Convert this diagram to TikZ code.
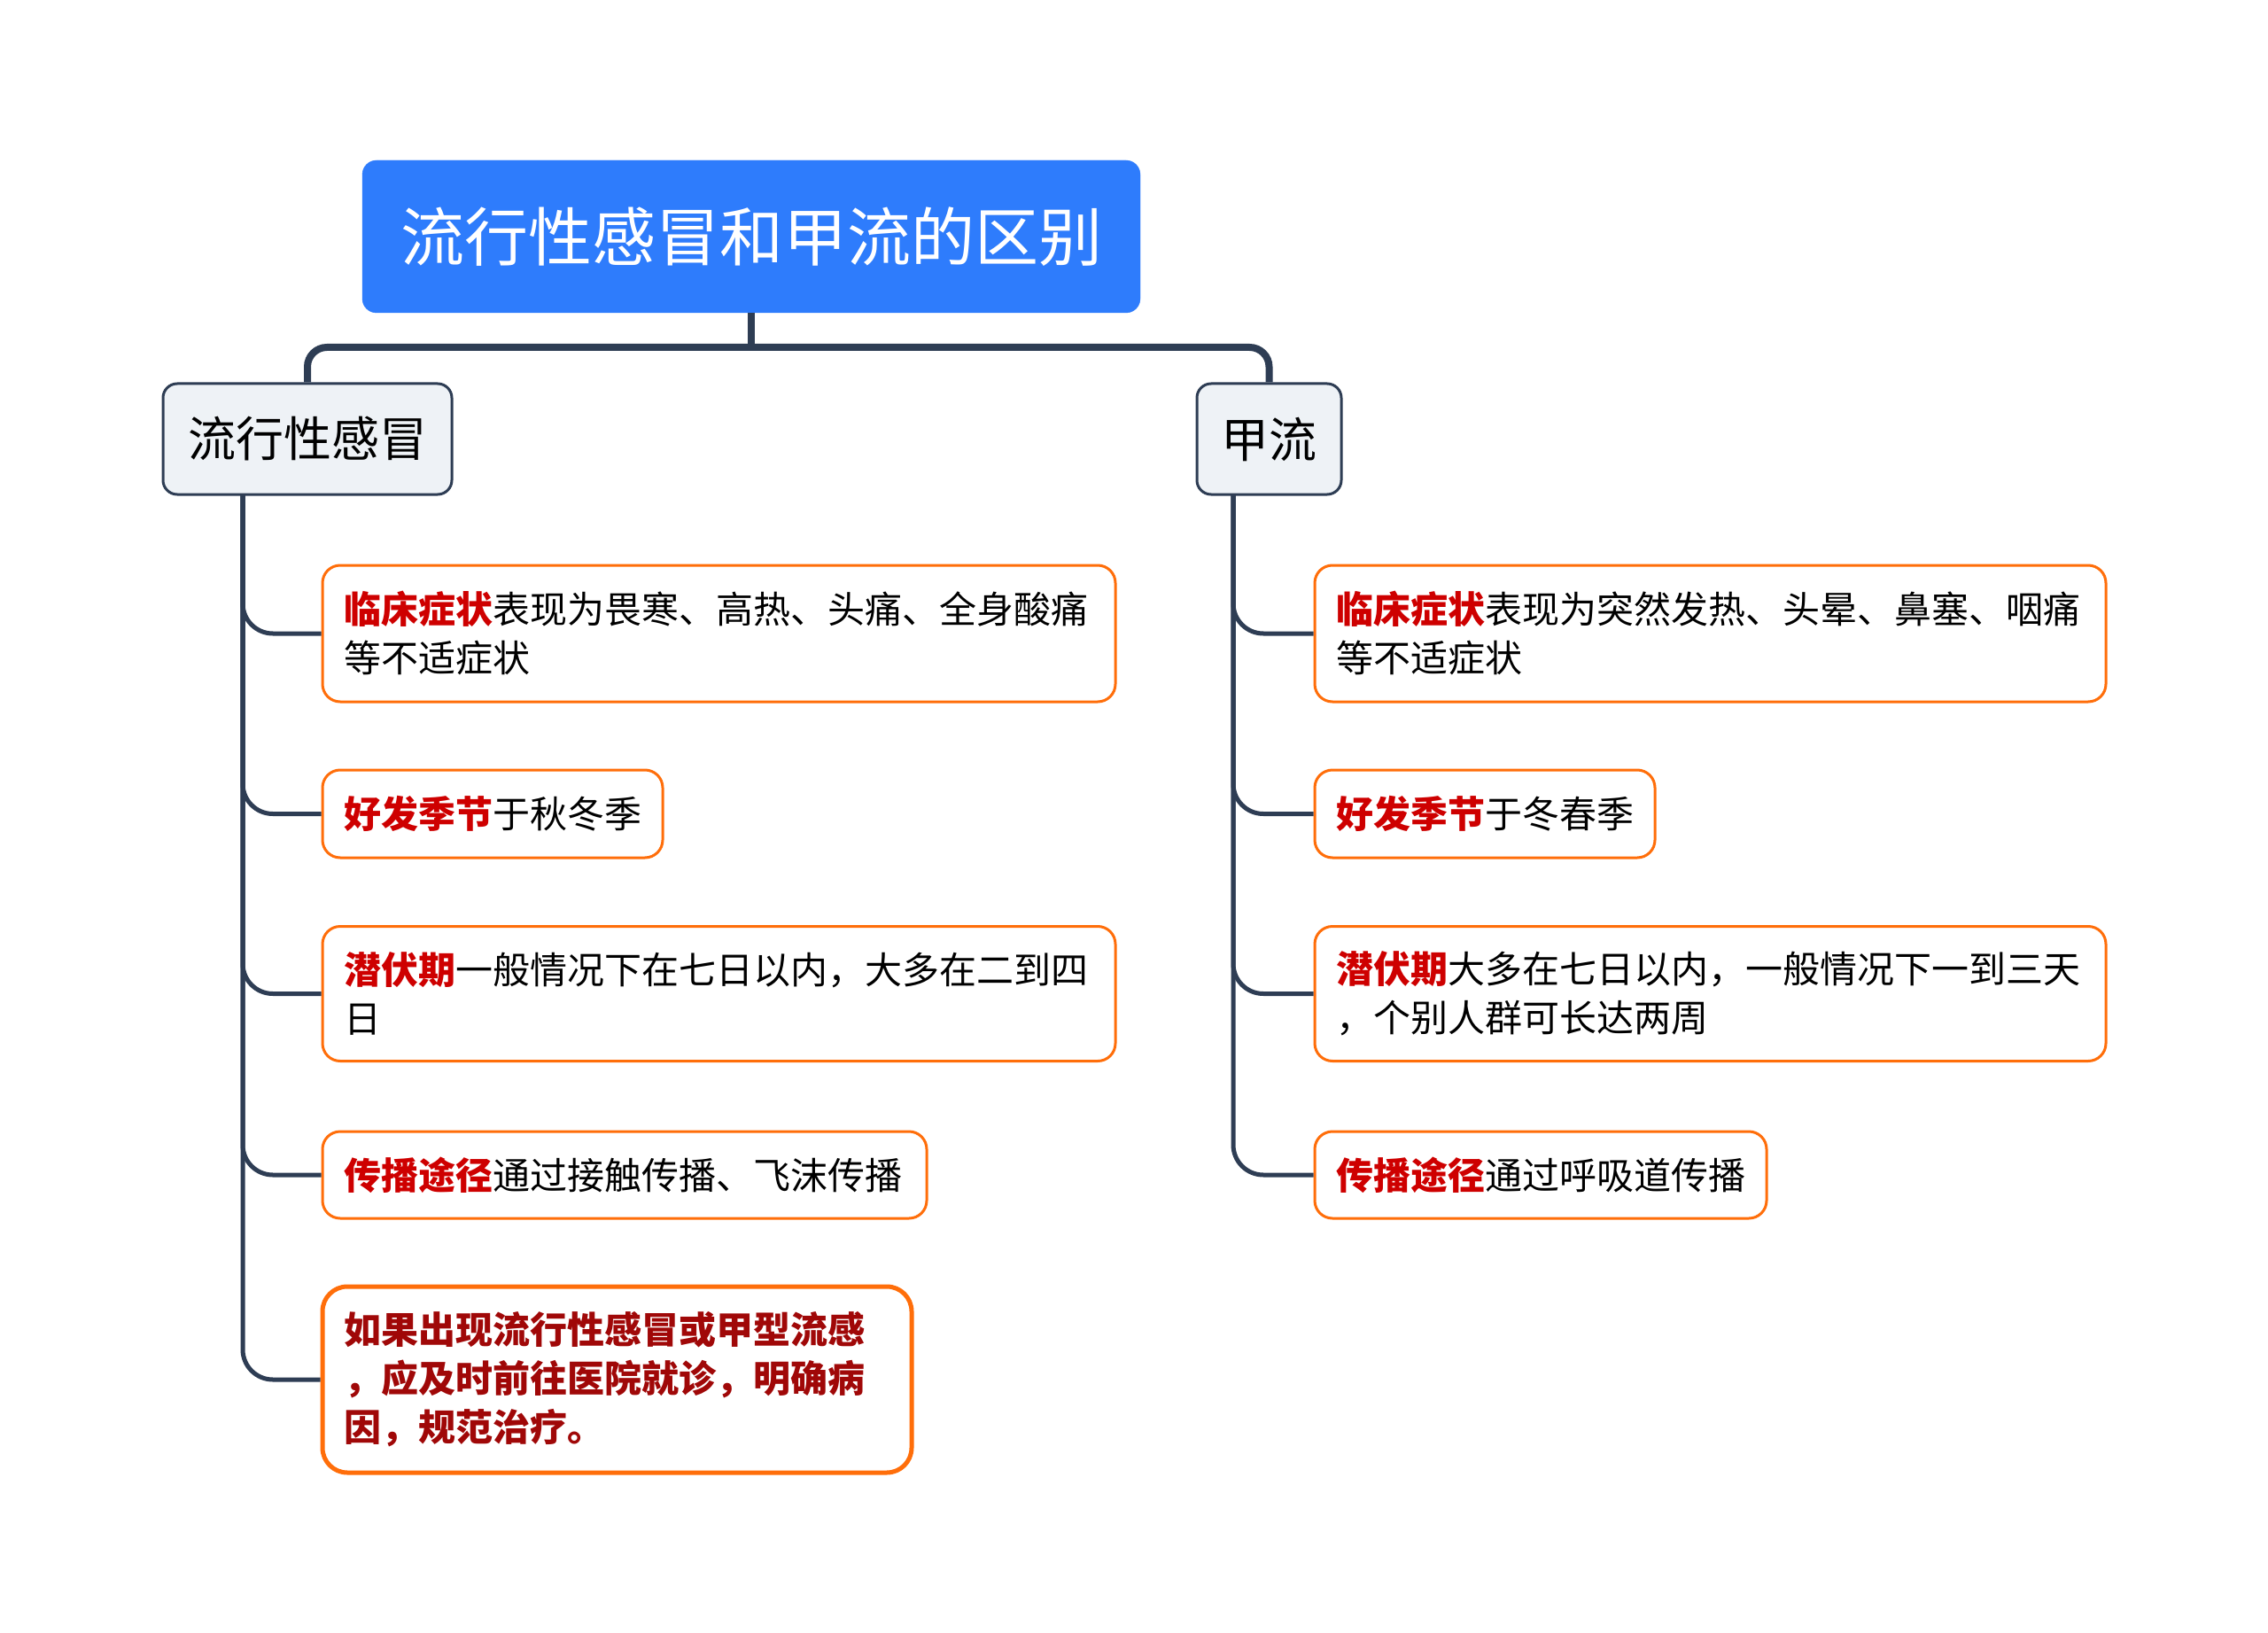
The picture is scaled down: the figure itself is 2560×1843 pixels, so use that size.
\documentclass[tikz,border=0pt]{standalone}
\usepackage{fontspec}
\setmainfont{Noto Sans CJK SC}
\usetikzlibrary{positioning}

\definecolor{rootblue}{RGB}{46,124,252}
\definecolor{topicfill}{RGB}{238,242,246}
\definecolor{linkdark}{RGB}{46,61,84}
\definecolor{leaforange}{RGB}{255,110,10}
\definecolor{keyred}{RGB}{206,0,0}
\definecolor{tipred}{RGB}{160,8,8}

\newcommand{\redkey}[1]{{\bfseries\color{keyred}#1}}

\tikzset{
    rootbox/.style={fill=rootblue, draw=rootblue, rounded corners=16pt, text=white,
        font=\fontsize{72}{86}\selectfont, minimum width=878pt, minimum height=172pt, inner sep=0pt},
    topic/.style={fill=topicfill, draw=linkdark, line width=3pt, rounded corners=16pt,
        font=\fontsize{54}{64}\selectfont, minimum height=125pt, inner sep=0pt},
    leaf/.style={fill=white, draw=leaforange, line width=3pt, rounded corners=20pt,
        font=\fontsize{42}{55}\selectfont, align=left, inner xsep=24pt, inner ysep=0pt},
    link/.style={draw=linkdark, line width=8pt},
    branch/.style={draw=linkdark, line width=5pt, rounded corners=34pt}
}

\begin{document}
\begin{tikzpicture}[x=1pt, y=-1pt]
    \useasboundingbox (0,0) rectangle (2560,1843);
    \fill[white] (0,0) rectangle (2560,1843);

    \node[rootbox] (root) at (848,267) {流行性感冒和甲流的区别};

    \node[topic, minimum width=326pt] (flu) at (347,495.5) {流行性感冒};
    \node[topic, minimum width=163pt] (jialiu) at (1432.5,495.5) {甲流};

    \coordinate (bar) at (848,392);
    \draw[link] (root.south) -- (bar);
    \draw[link, rounded corners=22pt] (flu.north) |- (bar) -| (jialiu.north);

    % left side
    \node[leaf, text width=847pt, minimum height=154pt] (la) at (811.5,715)
        {\redkey{临床症状}表现为畏寒、高热、头痛、全身酸痛\\等不适症状};
    \node[leaf, text width=336pt, minimum height=99pt] (lb) at (556,918.5)
        {\redkey{好发季节}于秋冬季};
    \node[leaf, text width=847pt, minimum height=152pt] (lc) at (811.5,1121.5)
        {\redkey{潜伏期}一般情况下在七日以内，大多在二到四\\日};
    \node[leaf, text width=634pt, minimum height=98pt] (ld) at (705,1326)
        {\redkey{传播途径}通过接触传播、飞沫传播};
    \node[leaf, line width=5pt, rounded corners=28pt, text width=617pt, minimum height=210pt,
        font=\fontsize{42}{55}\selectfont\bfseries, text=tipred] (le) at (696.5,1557)
        {如果出现流行性感冒或甲型流感\\，应及时前往医院就诊，明确病\\因，规范治疗。};

    % right side
    \node[leaf, text width=845pt, minimum height=154pt] (ra) at (1930.5,715)
        {\redkey{临床症状}表现为突然发热、头晕、鼻塞、咽痛\\等不适症状};
    \node[leaf, text width=336pt, minimum height=99pt] (rb) at (1676,918.5)
        {\redkey{好发季节}于冬春季};
    \node[leaf, text width=845pt, minimum height=152pt] (rc) at (1930.5,1121.5)
        {\redkey{潜伏期}大多在七日以内，一般情况下一到三天\\，个别人群可长达两周};
    \node[leaf, text width=462pt, minimum height=98pt] (rd) at (1739,1326)
        {\redkey{传播途径}通过呼吸道传播};

    \coordinate (ltrunk) at (274,558);
    \coordinate (rtrunk) at (1392,558);

    \foreach \n in {la,lb,lc,ld,le}{
        \draw[branch] (ltrunk) |- (\n.west);
    }
    \foreach \n in {ra,rb,rc,rd}{
        \draw[branch] (rtrunk) |- (\n.west);
    }

\end{tikzpicture}
\end{document}
